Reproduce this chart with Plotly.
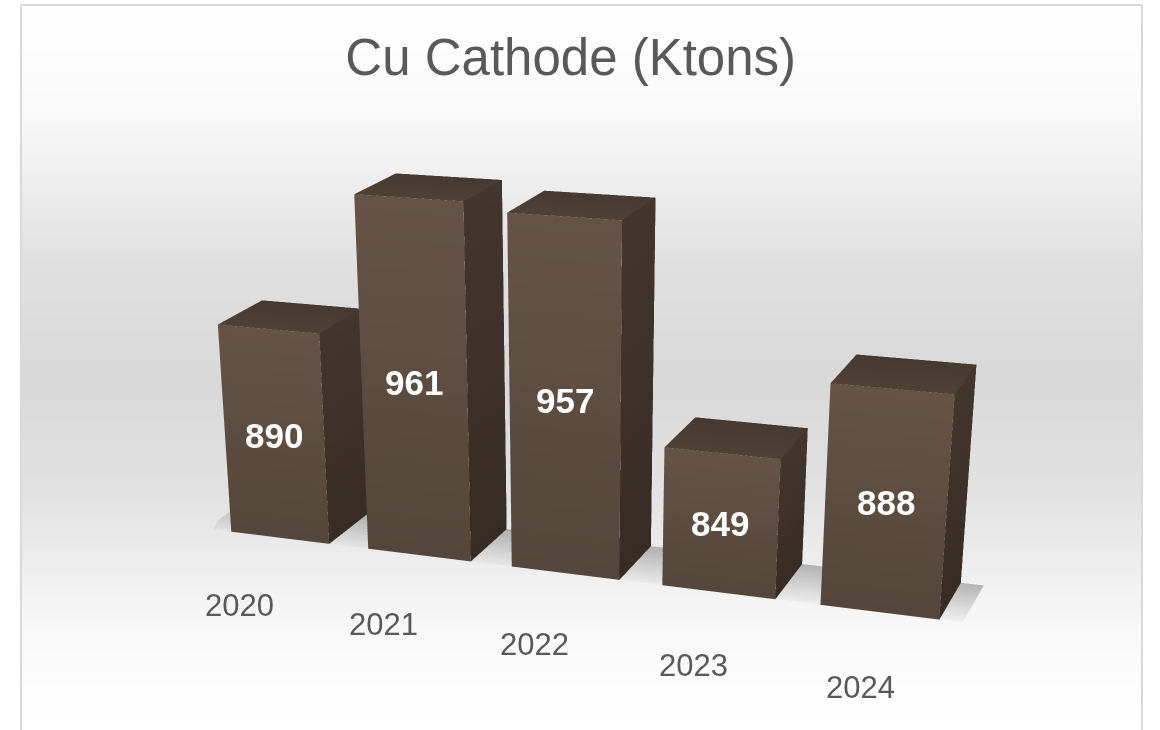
import plotly.graph_objects as go

years = ["2020", "2021", "2022", "2023", "2024"]
values = [890, 961, 957, 849, 888]
title = "Cu Cathode (Ktons)"

Z_BASE = 778
Z_RANGE = [700, 1000]
X_RANGE = [-0.5, 5.0]
BAR_W = 0.72
DEPTH = 1.0
SHEAR_X = 0.185
SHEAR_Z = 12
TILT = 5.1
LABEL_DX = -0.33
LABEL_DX_STEP = 0.06
LABEL_DZ = -40
VALUE_DZ = 0

FRONT_TOP, FRONT_BOT = "#665346", "#54463a"
TOP_BACK, TOP_FRONT = "#463a30", "#4f4136"
SIDE_TOP, SIDE_BOT = "#43362d", "#372c25"

xs, ys, zs, ii, jj, kk, cols = [], [], [], [], [], [], []


def tz(x, z):
    return z - TILT * (x - 2)


def quad(points, colors):
    n = len(xs)
    for p, c in zip(points, colors):
        xs.append(p[0]); ys.append(p[1]); zs.append(tz(p[0], p[2])); cols.append(c)
    ii.extend([n, n]); jj.extend([n + 1, n + 2]); kk.extend([n + 2, n + 3])


for i, v in enumerate(values):
    x0, x1 = i - BAR_W / 2, i + BAR_W / 2
    quad([(x0, 0, Z_BASE), (x1, 0, Z_BASE), (x1, 0, v), (x0, 0, v)],
         [FRONT_BOT, FRONT_BOT, FRONT_TOP, FRONT_TOP])
    quad([(x0, 0, v), (x1, 0, v), (x1 + SHEAR_X, DEPTH, v + SHEAR_Z), (x0 + SHEAR_X, DEPTH, v + SHEAR_Z)],
         [TOP_FRONT, TOP_FRONT, TOP_BACK, TOP_BACK])
    quad([(x1, 0, Z_BASE), (x1 + SHEAR_X, DEPTH, Z_BASE + SHEAR_Z), (x1 + SHEAR_X, DEPTH, v + SHEAR_Z), (x1, 0, v)],
         [SIDE_BOT, SIDE_BOT, SIDE_TOP, SIDE_TOP])

bars = go.Mesh3d(x=xs, y=ys, z=zs, i=ii, j=jj, k=kk, vertexcolor=cols,
                 flatshading=True, hoverinfo="skip",
                 lighting=dict(ambient=1, diffuse=0, specular=0, fresnel=0, roughness=1))

# Soft floor shadow along the row of bars
x_lo, x_hi = -0.55, len(values) - 1 + 0.5
sx = [x_lo, x_hi, x_hi + SHEAR_X, x_lo + SHEAR_X]
sy = [0.02, 0.02, DEPTH, DEPTH]
sz = [tz(x_lo, Z_BASE), tz(x_hi, Z_BASE), tz(x_hi + SHEAR_X, Z_BASE + SHEAR_Z), tz(x_lo + SHEAR_X, Z_BASE + SHEAR_Z)]
shadow = go.Mesh3d(x=sx, y=sy, z=sz, i=[0, 0], j=[1, 2], k=[2, 3],
                   vertexcolor=["rgba(0,0,0,0.03)", "rgba(0,0,0,0.03)", "rgba(0,0,0,0.25)", "rgba(0,0,0,0.25)"],
                   hoverinfo="skip",
                   lighting=dict(ambient=1, diffuse=0, specular=0, fresnel=0))

fig = go.Figure([shadow, bars])

annots = []
for i, v in enumerate(values):
    annots.append(dict(x=i, y=0, z=tz(i, (Z_BASE + v) / 2 + VALUE_DZ), text=str(v), showarrow=False,
                       font=dict(family="Liberation Sans", size=35, color="white", weight="bold")))
    annots.append(dict(x=i + LABEL_DX + LABEL_DX_STEP * i, y=0, z=tz(i, Z_BASE + LABEL_DZ), text=years[i],
                       showarrow=False, font=dict(family="Liberation Sans", size=31, color="#595959")))

hidden = dict(visible=False)
cx, cz = -0.0715, 0.183
fig.update_layout(
    width=1160, height=730, margin=dict(l=0, r=0, t=0, b=0),
    paper_bgcolor="rgba(0,0,0,0)",
    showlegend=False,
    title=dict(text=title, x=0.492, xanchor="center", y=0.922, yanchor="middle",
               font=dict(family="Liberation Sans", size=51, color="#595959")),
    scene=dict(
        domain=dict(x=[0, 1], y=[0, 1]),
        xaxis=dict(range=X_RANGE, **hidden),
        yaxis=dict(range=[0, DEPTH], **hidden),
        zaxis=dict(range=Z_RANGE, **hidden),
        aspectmode="manual",
        aspectratio=dict(x=2.299, y=0.11, z=1.625),
        camera=dict(eye=dict(x=0.36 + cx, y=-2.33, z=0.375 + cz), center=dict(x=cx, y=0, z=cz),
                    up=dict(x=0, y=0, z=1), projection=dict(type="perspective")),
        annotations=annots,
        bgcolor="rgba(0,0,0,0)",
    ),
)

# Chart-area gradient and frame
stops = [(0, 255), (100, 250), (180, 238), (261, 224), (381, 216), (502, 227), (542, 234), (622, 247), (702, 254), (730, 255)]
shapes = []
step = 3
for y in range(4, 730, step):
    for (a, ca), (b, cb) in zip(stops, stops[1:]):
        if a <= y <= b:
            g = round(ca + (cb - ca) * (y - a) / (b - a))
            break
    shapes.append(dict(type="rect", xref="paper", yref="paper", x0=21 / 1160, x1=1142 / 1160,
                       y0=1 - y / 730, y1=1 - (y + step) / 730, layer="below",
                       line=dict(width=0), fillcolor=f"rgb({g},{g},{g})"))
frame = dict(color="#d9d9d9", width=2)
for x0, y0, x1, y1 in [(21, 5, 1142, 5), (21, 5, 21, 730), (1142, 5, 1142, 730)]:
    shapes.append(dict(type="line", xref="paper", yref="paper", x0=x0 / 1160, x1=x1 / 1160,
                       y0=1 - y0 / 730, y1=1 - y1 / 730, line=frame, layer="below"))
fig.update_layout(shapes=shapes)

fig.write_html("out.html", config=dict(displayModeBar=False),
               post_script="document.body.style.margin='0';")
